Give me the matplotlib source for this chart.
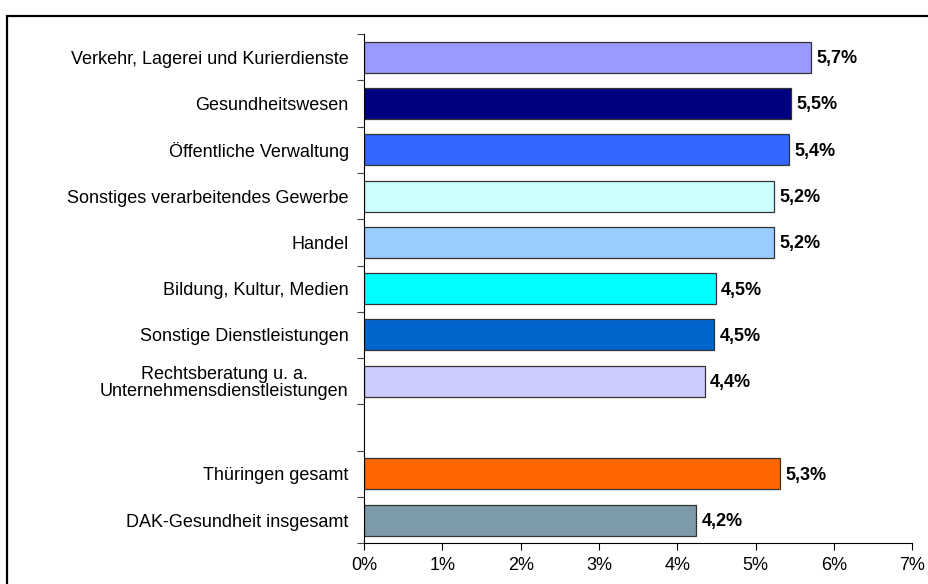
import matplotlib
matplotlib.use("Agg")
import matplotlib.pyplot as plt
from matplotlib.patches import Rectangle
import numpy as np

# Branchen (top to bottom), an empty slot separates the totals
categories = [
    "Verkehr, Lagerei und Kurierdienste",
    "Gesundheitswesen",
    "Öffentliche Verwaltung",
    "Sonstiges verarbeitendes Gewerbe",
    "Handel",
    "Bildung, Kultur, Medien",
    "Sonstige Dienstleistungen",
    "Rechtsberatung u. a.\nUnternehmensdienstleistungen",
    "",
    "Thüringen gesamt",
    "DAK-Gesundheit insgesamt",
]
values = [5.71, 5.45, 5.43, 5.23, 5.23, 4.49, 4.47, 4.35, None, 5.31, 4.24]
value_labels = ["5,7%", "5,5%", "5,4%", "5,2%", "5,2%", "4,5%", "4,5%", "4,4%", "", "5,3%", "4,2%"]
colors = ["#9999FF", "#000080", "#3366FF", "#CCFFFF", "#99CCFF", "#00FFFF",
          "#0066CC", "#CCCCFF", None, "#FF6600", "#7D9AAA"]
xticks = [0, 1, 2, 3, 4, 5, 6, 7]

plt.rcParams["font.family"] = ["Liberation Sans", "DejaVu Sans"]

W, H = 929, 584
fig = plt.figure(figsize=(W / 100, H / 100), dpi=100)
ax = fig.add_axes([364 / W, 1 - 543.3 / H, (912.3 - 364) / W, (543.3 - 34) / H])

n = len(categories)
ypos = np.arange(n)
for y, v, c in zip(ypos, values, colors):
    if v is None:
        continue
    ax.barh(y, v, height=0.67, color=c, edgecolor="#333333", linewidth=0.9)

for y, v, lab in zip(ypos, values, value_labels):
    if v is None:
        continue
    ax.text(v + 0.07, y + 0.03, lab, va="center", ha="left", fontsize=13, fontweight="bold")

ax.set_xlim(0, 7)
ax.set_ylim(n - 0.5, -0.5)
ax.set_xticks(xticks)
ax.set_xticklabels([f"{t}%" for t in xticks], fontsize=13)

# tick marks between categories, labels in the middle
ax.set_yticks(np.arange(-0.5, n, 1.0))
ax.set_yticklabels([])
ax.set_yticks(ypos, minor=True)
ax.set_yticklabels(categories, minor=True, fontsize=13, multialignment="center",
                   linespacing=1.0)
ax.tick_params(axis="y", which="minor", length=0, pad=11)
ax.tick_params(axis="y", which="major", length=5, direction="out", color="#444444")
ax.tick_params(axis="x", length=5, direction="out", pad=5)

ax.spines["top"].set_visible(False)
ax.spines["right"].set_visible(False)

# outer frame (cut off at the right and bottom)
fig.patches.append(Rectangle((7.3 / W, -0.05), 1.2, 1 - 15.7 / H + 0.05,
                             transform=fig.transFigure, fill=False,
                             edgecolor="black", linewidth=1.6))

fig.savefig("out.png", dpi=100)
